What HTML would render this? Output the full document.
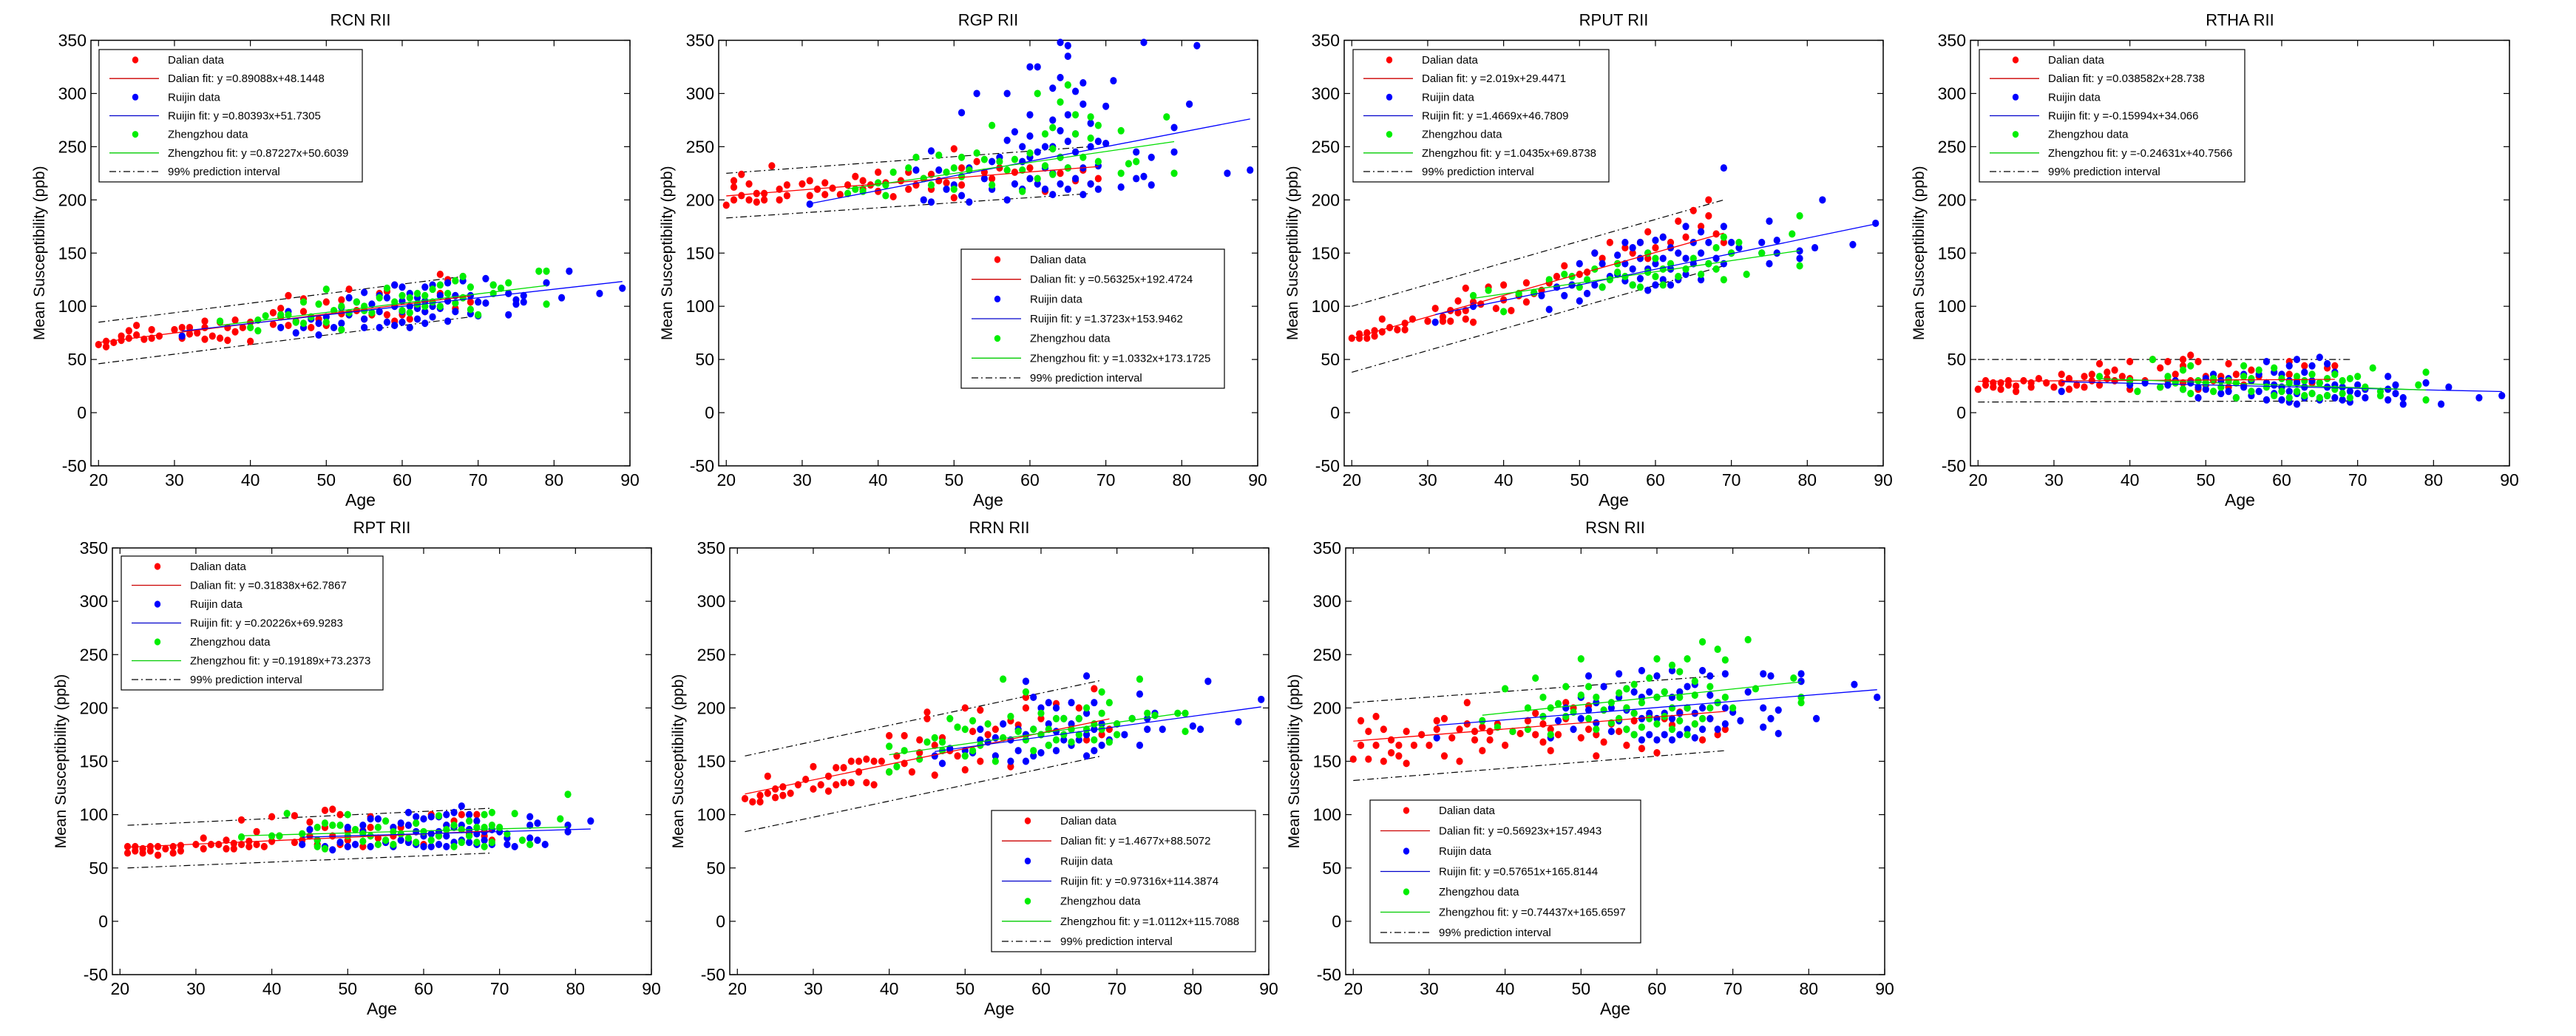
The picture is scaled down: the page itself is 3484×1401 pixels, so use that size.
<!DOCTYPE html>
<html><head><meta charset="utf-8"><style>
html,body{margin:0;padding:0;background:#fff;}
svg text{font-family:"Liberation Sans Narrow","Liberation Sans",sans-serif;}
</style></head><body>
<svg id="chart" width="3484" height="1396" viewBox="0 0 3484 1396" xmlns="http://www.w3.org/2000/svg">
<rect width="3484" height="1396" fill="#fff"/>
</svg>
<script>
const xTicks=[20,30,40,50,60,70,80,90];
const yTicks=[-50,0,50,100,150,200,250,300,350];
const panelTitles=["RCN RII","RGP RII","RPUT RII","RTHA RII","RPT RII","RRN RII","RSN RII"];
const dalianFit=[[0.89088,48.1448],[0.56325,192.4724],[2.019,29.4471],[0.038582,28.738],[0.31838,62.7867],[1.4677,88.5072],[0.56923,157.4943]];
const ruijinFit=[[0.80393,51.7305],[1.3723,153.9462],[1.4669,46.7809],[-0.15994,34.066],[0.20226,69.9283],[0.97316,114.3874],[0.57651,165.8144]];
const zhengFit=[[0.87227,50.6039],[1.0332,173.1725],[1.0435,69.8738],[-0.24631,40.7566],[0.19189,73.2373],[1.0112,115.7088],[0.74437,165.6597]];
const dalianLabels=["y =0.89088x+48.1448","y =0.56325x+192.4724","y =2.019x+29.4471","y =0.038582x+28.738","y =0.31838x+62.7867","y =1.4677x+88.5072","y =0.56923x+157.4943"];
const ruijinLabels=["y =0.80393x+51.7305","y =1.3723x+153.9462","y =1.4669x+46.7809","y =-0.15994x+34.066","y =0.20226x+69.9283","y =0.97316x+114.3874","y =0.57651x+165.8144"];
const zhengLabels=["y =0.87227x+50.6039","y =1.0332x+173.1725","y =1.0435x+69.8738","y =-0.24631x+40.7566","y =0.19189x+73.2373","y =1.0112x+115.7088","y =0.74437x+165.6597"];
const piUpper=[[20,85,68,128],[20,225,68,250],[20,100,69,200],[20,50,69,50],[21,90,69,106],[21,155,68,226],[20,205,68,230]];
const piLower=[[20,46,69,90],[20,183,68,206],[20,38,69,138],[20,10,69,11],[21,50,69,64],[21,84,68,155],[20,132,69,160]];
const dalianData=[
"20:64,21:62,21:67,22:66,23:68,23:72,24:70,24:77,25:73,25:82,26:69,27:70,27:78,28:72,30:78,31:70,31:80,32:74,32:80,33:75,34:69,34:80,34:86,35:72,36:70,36:85,37:68,37:80,38:76,38:87,39:80,40:67,40:85,43:83,43:94,44:90,44:98,45:82,45:110,46:86,47:95,47:107,48:80,49:88,50:104,50:82,52:93,52:106,53:116,54:96,55:88,56:92,57:112,58:92,58:114,59:86,59:120,60:92,61:88,62:100,63:95,65:130,65:112,66:125,66:105,67:98,68:128,69:104",
"20:195,21:200,21:212,21:218,22:204,22:224,23:200,23:215,24:198,24:206,25:200,25:206,26:232,27:210,27:200,28:214,28:204,30:215,31:204,31:218,32:210,33:205,33:216,34:211,35:205,36:214,37:222,38:210,38:218,39:214,40:208,40:226,41:216,42:203,43:218,44:210,44:226,45:214,46:220,47:210,47:224,48:218,49:216,50:202,50:248,51:214,51:230,53:236,54:226,55:220,56:230,58:226,60:230,62:208,64:225,66:218,67:228,68:215,69:220",
"20:70,21:70,21:74,22:70,22:75,23:72,23:77,24:76,24:88,25:80,26:78,27:78,27:84,28:88,30:86,31:98,32:86,32:90,33:86,33:96,34:94,34:105,35:88,35:96,35:117,36:85,36:104,37:102,38:118,39:98,40:106,40:120,41:96,42:110,43:104,43:122,44:112,45:115,46:122,47:128,48:138,49:120,50:130,51:132,52:150,53:145,54:160,55:140,56:155,57:150,58:160,59:145,59:170,60:155,61:165,62:160,63:180,64:165,65:190,66:175,67:200,67:185,68:168,69:160",
"20:22,21:26,21:30,22:28,22:24,23:28,23:22,24:26,24:30,25:20,25:25,26:30,27:28,27:24,28:32,29:28,30:24,31:36,31:28,32:22,32:32,33:26,34:34,34:24,35:30,35:36,36:26,36:46,37:32,37:38,38:30,38:40,39:34,40:22,40:32,40:48,42:30,43:50,44:24,44:42,45:30,45:48,46:36,47:28,47:44,47:50,48:30,48:54,49:22,49:48,50:26,50:34,51:30,52:34,53:24,53:46,54:36,55:26,56:30,56:40,57:34,58:28,60:24,61:36,61:48,62:30,63:44,64:28,66:42,67:44",
"21:64,21:70,22:66,22:70,23:64,23:68,24:66,24:70,25:62,25:70,26:68,27:64,27:70,28:66,28:71,30:72,31:68,31:78,32:72,33:72,34:68,34:76,35:68,35:73,36:72,36:95,37:70,37:75,38:72,38:84,39:70,40:75,40:98,41:80,43:74,43:99,44:76,45:80,45:93,46:72,47:88,47:104,48:80,48:105,49:72,49:100,50:76,50:85,52:70,52:85,53:88,53:98,54:78,55:74,56:80,57:88,58:75,60:72,61:100,62:80,63:90,64:94,65:100,66:82,67:100,68:80,69:76",
"21:115,22:112,23:112,23:118,24:120,24:136,25:124,25:116,26:126,26:118,27:120,28:128,29:133,30:124,30:145,31:128,32:122,32:136,33:144,33:128,34:144,34:130,35:130,35:150,36:140,36:150,37:152,37:130,38:150,38:128,39:150,40:140,40:174,41:155,42:174,42:148,43:140,44:170,44:158,45:190,45:196,46:137,46:165,47:172,48:160,49:155,50:142,50:200,51:178,52:150,52:198,53:175,54:180,56:145,56:188,57:184,58:200,58:210,60:190,62:204,64:180,65:200,66:170,67:218,68:175,69:180",
"20:152,21:165,21:188,22:178,22:152,23:192,23:165,24:180,24:150,25:158,25:170,26:155,26:165,27:178,27:148,28:165,29:175,30:165,31:188,31:180,32:155,32:190,33:172,34:150,34:180,35:185,35:205,36:170,36:178,37:160,37:182,38:170,38:178,39:185,40:165,41:178,42:176,43:188,44:175,44:195,45:168,45:185,46:160,46:180,47:175,48:190,48:205,49:200,50:172,51:180,51:202,52:155,52:175,53:168,54:185,55:178,56:165,56:200,57:188,58:162,59:192,60:158,61:190,62:184,63:196,64:200,65:185,66:170,67:190,68:175,69:180"];
const ruijinData=[
"31:72,44:80,45:95,46:75,47:80,48:88,49:73,49:84,50:90,51:80,52:84,52:99,53:92,53:108,54:104,55:80,55:113,55:88,56:102,57:80,57:95,57:110,58:85,58:108,59:82,59:100,59:120,60:85,60:95,60:105,60:118,61:80,61:100,61:112,62:88,62:98,62:108,63:84,63:95,63:105,63:118,64:90,64:100,64:120,65:98,65:110,66:86,66:105,66:122,67:95,67:110,68:124,69:93,69:110,70:91,70:104,71:103,71:126,72:120,74:92,74:112,75:102,75:106,76:104,76:110,79:122,81:108,82:133,86:112,89:117",
"31:196,45:228,46:200,47:198,47:246,48:228,49:210,50:214,51:204,51:282,52:198,52:230,53:300,54:220,55:210,55:236,56:240,57:200,57:256,57:300,58:215,58:264,59:210,59:236,59:250,60:220,60:240,60:280,60:260,60:325,61:215,61:245,61:325,62:210,62:230,62:250,63:205,63:225,63:250,63:275,63:305,64:215,64:240,64:265,64:315,64:348,65:210,65:230,65:255,65:280,65:335,65:345,66:220,66:245,66:262,66:302,67:205,67:230,67:290,67:310,68:215,68:250,68:272,69:210,69:232,69:255,70:253,70:288,71:312,72:212,74:220,74:245,75:222,75:348,76:214,76:240,79:245,79:268,81:290,82:345,86:225,89:228",
"31:85,36:100,45:110,46:97,47:118,48:110,49:120,50:105,50:140,51:112,52:120,52:150,53:118,53:140,54:128,55:130,55:148,56:124,56:140,56:160,57:120,57:135,57:155,58:126,58:145,58:160,59:115,59:135,59:150,60:120,60:140,60:162,61:125,61:145,61:165,62:120,62:135,62:155,63:125,63:150,64:130,64:145,64:175,65:140,65:160,66:125,66:150,66:170,67:140,67:160,68:145,69:140,69:175,69:230,70:150,70:160,71:155,74:150,74:160,75:140,75:180,76:150,76:162,79:145,79:152,81:155,82:200,86:158,89:178",
"31:20,40:26,42:28,45:26,46:30,47:22,48:28,49:14,49:24,50:22,50:32,51:36,52:18,52:30,53:20,53:32,54:14,55:24,55:36,56:16,56:30,57:20,57:36,58:12,58:28,58:48,59:18,59:26,59:38,60:12,60:24,60:36,61:10,61:20,61:30,61:44,62:8,62:18,62:28,62:50,63:14,63:24,63:38,64:18,64:30,64:44,65:12,65:28,65:52,66:16,66:24,66:46,67:14,67:26,67:38,68:12,68:24,69:10,69:20,70:18,70:26,71:14,71:22,74:12,74:22,74:34,75:18,75:26,76:8,76:14,79:28,81:8,82:24,86:14,89:16",
"44:72,45:86,46:76,47:70,48:67,49:74,50:70,50:88,51:72,52:84,52:90,53:70,53:96,54:96,55:74,56:70,56:88,57:76,57:92,58:74,58:90,58:102,59:72,59:84,59:98,60:70,60:80,60:96,61:70,61:82,61:98,62:72,62:84,62:98,63:70,63:80,63:90,63:100,64:74,64:88,64:102,65:76,65:90,65:108,66:74,66:86,66:100,67:72,67:82,67:94,68:76,68:84,69:72,69:86,70:84,71:72,71:78,72:70,74:78,74:90,74:98,75:76,75:92,76:72,79:84,79:90,82:94",
"46:155,47:148,48:162,50:160,51:158,52:170,52:180,53:168,54:155,54:172,55:185,56:150,56:170,57:160,57:180,58:150,58:175,58:225,59:155,59:180,59:210,60:158,60:175,60:200,61:165,61:185,61:205,62:160,62:178,62:200,63:170,63:190,64:165,64:185,64:205,65:170,65:190,66:155,66:175,66:195,66:230,67:160,67:180,67:205,68:165,68:185,69:170,70:185,71:175,72:190,73:165,73:213,74:180,74:190,75:195,76:180,80:183,81:180,82:225,86:187,89:208",
"31:172,46:172,47:188,48:200,49:180,50:190,50:210,51:198,51:230,52:186,52:205,53:220,54:178,54:200,55:188,55:210,55:232,56:180,56:198,56:218,57:175,57:195,57:215,58:170,58:190,58:210,58:235,59:175,59:195,59:215,60:170,60:190,60:210,60:230,61:175,61:195,61:215,62:170,62:190,62:210,62:235,63:175,63:195,63:215,64:180,64:200,64:220,65:172,65:195,65:222,66:180,66:200,66:235,67:190,67:212,67:230,68:180,68:205,69:185,69:200,69:232,70:196,71:188,72:215,74:182,74:200,74:232,75:190,75:230,76:176,76:198,79:225,79:232,81:190,86:222,89:210"];
const zhengData=[
"36:86,40:80,41:77,41:87,42:91,44:92,45:92,46:85,47:84,47:104,48:90,49:102,50:116,50:85,51:96,52:78,52:100,53:94,54:104,55:96,55:100,56:94,57:108,58:117,59:104,60:96,60:110,61:94,61:108,62:102,62:112,63:100,63:110,64:116,64:104,65:120,65:100,66:112,67:124,67:103,68:128,68:108,69:118,69:97,70:92,72:112,72:120,73:117,74:122,78:133,79:133,79:102",
"36:206,37:210,38:208,40:216,41:204,41:214,42:226,44:230,45:240,46:220,47:214,48:242,49:226,50:210,50:230,51:222,51:240,52:228,53:244,54:238,55:270,55:214,56:236,57:228,58:238,59:208,59:228,60:244,61:300,61:220,62:232,62:262,63:268,63:224,63:248,64:292,64:240,65:308,65:230,66:262,66:280,67:240,68:258,68:278,69:236,69:270,72:225,72:265,73:234,74:236,78:278,79:225",
"36:110,38:115,40:95,42:112,44:113,46:125,48:130,49:128,50:118,51:125,52:135,53:118,54:125,55:140,55:132,56:128,57:120,58:118,59:132,59:150,60:128,60:145,61:135,61:120,62:140,63:128,64:135,65:145,66:130,67:140,68:135,68:155,69:125,69:165,70:150,71:160,72:130,74:150,78:168,79:185,79:138",
"36:34,40:30,41:20,43:50,44:24,45:34,46:28,47:22,47:40,48:18,48:44,49:30,50:28,51:20,51:32,52:24,53:30,54:14,54:28,55:34,55:44,56:20,56:32,57:40,58:24,59:16,59:42,60:20,60:32,61:14,61:28,62:20,62:34,63:16,63:30,64:18,64:36,65:14,65:28,66:16,66:32,67:22,67:36,68:18,68:30,69:14,69:32,70:34,71:24,72:42,73:16,73:20,78:26,79:12,79:38",
"36:79,40:80,41:80,42:101,44:82,46:70,46:76,46:88,47:68,47:92,48:90,49:90,50:80,50:100,51:86,52:75,52:82,53:80,54:72,54:88,55:76,55:94,56:72,56:84,57:82,58:78,59:74,59:92,60:84,61:76,62:80,62:99,63:86,64:70,64:90,65:74,65:86,66:80,66:94,67:74,67:88,68:70,68:88,68:100,69:74,69:90,69:102,70:88,71:82,72:101,73:76,74:72,78:96,79:119",
"40:140,40:164,41:145,42:160,44:152,45:168,46:172,47:160,47:168,48:190,49:182,50:155,50:180,51:160,51:188,52:165,53:185,54:150,55:172,55:227,56:192,57:178,58:170,58:215,59:160,59:180,60:175,60:195,61:165,61:180,62:170,62:190,63:175,63:190,64:168,64:180,65:175,65:190,66:180,66:200,67:170,67:185,68:180,68:195,68:215,69:168,69:205,70:175,70:185,72:190,73:227,74:195,75:193,78:195,79:178,79:195",
"37:188,39:182,40:218,41:178,43:180,43:200,44:228,45:192,45:210,46:175,46:200,47:204,48:192,48:220,49:196,50:246,50:212,51:190,51:220,52:180,52:210,53:198,54:186,54:205,55:190,55:214,56:180,56:200,56:218,57:175,57:195,57:222,58:182,58:205,59:190,59:228,60:185,60:210,60:246,61:192,61:215,62:180,62:200,62:240,63:188,63:210,63:234,64:175,64:200,64:246,65:185,65:212,65:225,66:190,66:262,67:200,67:220,68:205,68:255,69:210,69:245,70:200,72:264,73:218,78:228,79:205,79:210"];

const NS="http://www.w3.org/2000/svg";
const svg=document.getElementById('chart');
const layouts=[
 {l:123,t:54.5,b:630,leg:[134,67,356,179]},
 {l:972,t:54.5,b:630,leg:[1300,337,356,188]},
 {l:1818,t:54.5,b:630,leg:[1830,67,346,179]},
 {l:2665,t:54.5,b:630,leg:[2677,67,359,179]},
 {l:152,t:741,b:1318,leg:[164,752,354,181]},
 {l:987,t:741,b:1318,leg:[1341,1096,357,191]},
 {l:1820,t:741,b:1318,leg:[1853,1082,366,193]}];
const W=729, XMIN=19, XMAX=90, YMIN=-50, YMAX=350;
function mk(tag,attrs,parent){const e=document.createElementNS(NS,tag);for(const k in attrs)e.setAttribute(k,attrs[k]);(parent||svg).appendChild(e);return e;}
function parse(s){return s.split(',').map(p=>p.split(':').map(Number));}

layouts.forEach((L,i)=>{
  const g=mk('g',{});
  
  
  const H=L.b-L.t;
  const sx=v=>L.l+(v-XMIN)/(XMAX-XMIN)*W;
  const sy=v=>L.b-(v-YMIN)/(YMAX-YMIN)*H;
  const frame=mk('rect',{x:L.l,y:L.t,width:W,height:H,fill:'#fff',stroke:'#000','stroke-width':1.5},g);
  
  
  xTicks.forEach(v=>{
    const x=sx(v);
    mk('line',{x1:x,y1:L.b,x2:x,y2:L.b-8,stroke:'#000','stroke-width':1.2},g);
    mk('line',{x1:x,y1:L.t,x2:x,y2:L.t+8,stroke:'#000','stroke-width':1.2},g);
    const t=mk('text',{x:x,y:L.b+27,'text-anchor':'middle','font-size':23},g);t.textContent=v;
    
    
  });
  yTicks.forEach(v=>{
    const y=sy(v);
    mk('line',{x1:L.l,y1:y,x2:L.l+8,y2:y,stroke:'#000','stroke-width':1.2},g);
    mk('line',{x1:L.l+W,y1:y,x2:L.l+W-8,y2:y,stroke:'#000','stroke-width':1.2},g);
    const t=mk('text',{x:L.l-6,y:y+8,'text-anchor':'end','font-size':23},g);t.textContent=v;
    
    
  });
  const title=mk('text',{x:L.l+W/2,y:L.t-20,'text-anchor':'middle','font-size':22},g);title.textContent=panelTitles[i];
  
  
  const xl=mk('text',{x:L.l+W/2,y:L.b+54,'text-anchor':'middle','font-size':23},g);xl.textContent='Age';
  
  
  const yc=L.t+H/2;
  const yl=mk('text',{x:L.l-63,y:yc,'text-anchor':'middle','font-size':21,transform:`rotate(-90 ${L.l-63} ${yc})`,style:'font-family:"Liberation Sans",sans-serif'},g);yl.textContent='Mean Susceptibility (ppb)';
  
  
  [piUpper[i],piLower[i]].forEach((p,k)=>{
    const ln=mk('line',{x1:sx(p[0]),y1:sy(p[1]),x2:sx(p[2]),y2:sy(p[3]),stroke:'#000','stroke-width':1.2,'stroke-dasharray':'9 4 2 4'},g);
    
    
  });
  const series=[[dalianData[i],'#ff0000',dalianFit[i],'dalian'],[ruijinData[i],'#0000ff',ruijinFit[i],'ruijin'],[zhengData[i],'#00ee00',zhengFit[i],'zhengzhou']];
  series.forEach(s=>{
    const pts=parse(s[0]);
    pts.forEach(p=>{
      const c=mk('ellipse',{cx:sx(p[0]),cy:sy(p[1]),rx:4.6,ry:5,fill:s[1]},g);
      
      
    });
  });
  series.forEach(s=>{
    const pts=parse(s[0]);const xs=pts.map(p=>p[0]);
    const a=Math.min(...xs),b=Math.max(...xs);
    const ln=mk('line',{x1:sx(a),y1:sy(s[2][0]*a+s[2][1]),x2:sx(b),y2:sy(s[2][0]*b+s[2][1]),stroke:s[1]==='#00ee00'?'#00dd00':s[1],'stroke-width':1.3},g);
    
    
  });
  const [lx,ly,lw,lh]=L.leg;
  const lg=mk('g',{},g);
  
  
  mk('rect',{x:lx,y:ly,width:lw,height:lh,fill:'#fff',stroke:'#000','stroke-width':1.2},lg);
  const rows=[['dot','#ff0000','Dalian data'],['line','#cc0000','Dalian fit: '+dalianLabels[i]],['dot','#0000ff','Ruijin data'],['line','#0000cc','Ruijin fit: '+ruijinLabels[i]],['dot','#00ee00','Zhengzhou data'],['line','#00cc00','Zhengzhou fit: '+zhengLabels[i]],['pi','#000','99% prediction interval']];
  const step=(lh-28)/6;
  rows.forEach((r,k)=>{
    const y=ly+14+k*step;
    if(r[0]==='dot') mk('ellipse',{cx:lx+49,cy:y,rx:4.2,ry:4.6,fill:r[1]},lg);
    else mk('line',{x1:lx+14,y1:y,x2:lx+81,y2:y,stroke:r[1],'stroke-width':1.3,'stroke-dasharray':r[0]==='pi'?'9 4 2 4':'none'},lg);
    const t=mk('text',{x:lx+93,y:y+5,'font-size':15},lg);t.textContent=r[2];
    
    
  });
});
</script>
</body></html>
